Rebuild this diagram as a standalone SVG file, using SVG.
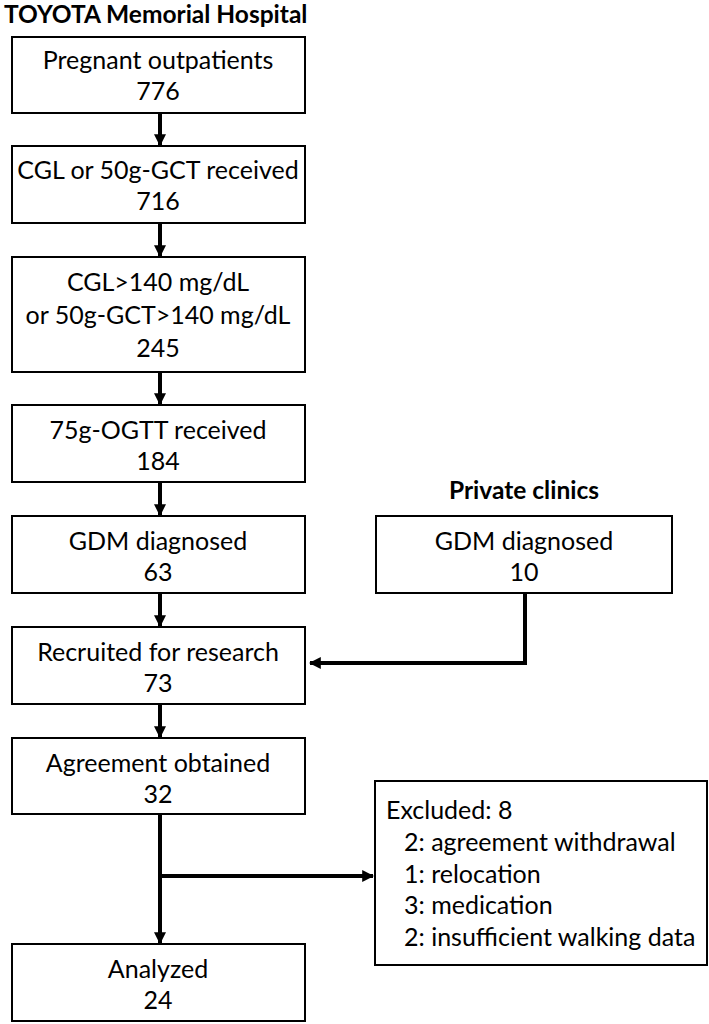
<svg xmlns="http://www.w3.org/2000/svg" width="709" height="1024" viewBox="0 0 709 1024">
<style>
.box{fill:#fff;stroke:#000;stroke-width:2}
.t{font-family:Lato,"Liberation Sans",sans-serif;font-size:25px;fill:#000;text-anchor:middle}
.l{font-family:Lato,"Liberation Sans",sans-serif;font-size:25px;fill:#000}
.h{font-family:Lato,"Liberation Sans",sans-serif;font-size:24.5px;font-weight:bold;fill:#000}
.c{fill:none;stroke:#000;stroke-width:4}
</style>
<defs>
<marker id="ah" viewBox="0 0 10 10" refX="9" refY="5" markerWidth="3" markerHeight="3" orient="auto" markerUnits="strokeWidth">
<path d="M0,0 L10,5 L0,10 z" fill="#000"/>
</marker>
</defs>
<rect width="709" height="1024" fill="#fff"/>
<text class="h" x="4" y="23">TOYOTA Memorial Hospital</text>
<text class="h" x="524" y="499" text-anchor="middle">Private clinics</text>
<g id="connectors">
<line class="c" x1="160" y1="113" x2="160" y2="145" marker-end="url(#ah)"/>
<line class="c" x1="160" y1="223" x2="160" y2="256" marker-end="url(#ah)"/>
<line class="c" x1="160" y1="372" x2="160" y2="404" marker-end="url(#ah)"/>
<line class="c" x1="160" y1="482" x2="160" y2="515" marker-end="url(#ah)"/>
<line class="c" x1="160" y1="593" x2="160" y2="626" marker-end="url(#ah)"/>
<line class="c" x1="160" y1="704" x2="160" y2="737" marker-end="url(#ah)"/>
<line class="c" x1="160" y1="814" x2="160" y2="943" marker-end="url(#ah)"/>
<line class="c" x1="160" y1="876" x2="373" y2="876" marker-end="url(#ah)"/>
<polyline class="c" points="525,593 525,663 310,663" marker-end="url(#ah)"/>
</g>
<g id="n1"><rect class="box" x="12" y="37" width="293" height="76"/><text class="t" x="158" y="69">Pregnant outpatients</text><text class="t" x="158" y="100">776</text></g>
<g id="n2"><rect class="box" x="12" y="146" width="293" height="77"/><text class="t" x="158" y="179">CGL or 50g-GCT received</text><text class="t" x="158" y="210">716</text></g>
<g id="n3"><rect class="box" x="12" y="257" width="293" height="115"/><text class="t" x="158" y="291">CGL&gt;140 mg/dL</text><text class="t" x="158" y="324">or 50g-GCT&gt;140 mg/dL</text><text class="t" x="158" y="357">245</text></g>
<g id="n4"><rect class="box" x="12" y="405" width="293" height="77"/><text class="t" x="158" y="439">75g-OGTT received</text><text class="t" x="158" y="470">184</text></g>
<g id="n5"><rect class="box" x="12" y="516" width="293" height="77"/><text class="t" x="158" y="550">GDM diagnosed</text><text class="t" x="158" y="581">63</text></g>
<g id="n6"><rect class="box" x="376" y="516" width="296" height="77"/><text class="t" x="524" y="550">GDM diagnosed</text><text class="t" x="524" y="581">10</text></g>
<g id="n7"><rect class="box" x="12" y="627" width="293" height="77"/><text class="t" x="158" y="661">Recruited for research</text><text class="t" x="158" y="692">73</text></g>
<g id="n8"><rect class="box" x="12" y="738" width="293" height="76"/><text class="t" x="158" y="772">Agreement obtained</text><text class="t" x="158" y="803">32</text></g>
<g id="n9"><rect class="box" x="12" y="944" width="293" height="77"/><text class="t" x="158" y="978">Analyzed</text><text class="t" x="158" y="1009">24</text></g>
<g id="n10"><rect class="box" x="375" y="781" width="332" height="184"/>
<text class="l" x="386" y="819">Excluded: 8</text>
<text class="l" x="404" y="851">2: agreement withdrawal</text>
<text class="l" x="404" y="883">1: relocation</text>
<text class="l" x="404" y="914">3: medication</text>
<text class="l" x="404" y="946">2: insufficient walking data</text>
</g>
</svg>
